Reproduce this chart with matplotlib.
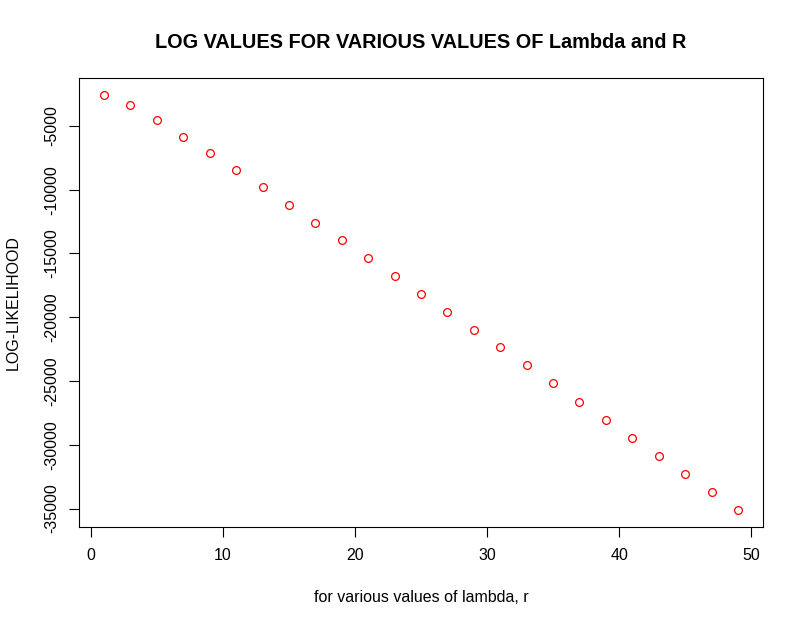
import numpy as np
import matplotlib.pyplot as plt

plt.rcParams['font.family'] = ['Liberation Sans', 'DejaVu Sans']

# lambda / r values and the log-likelihood
r_values = [1, 3, 5, 7, 9, 11, 13, 15, 17, 19, 21, 23, 25,
            27, 29, 31, 33, 35, 37, 39, 41, 43, 45, 47, 49]
log_lik = [-2570, -3380, -4560, -5840, -7150, -8480, -9820, -11230,
           -12590, -13980, -15360, -16770, -18160, -19580, -20990,
           -22370, -23780, -25190, -26620, -28040, -29450, -30860,
           -32280, -33710, -35120]

x_ticks = [0, 10, 20, 30, 40, 50]
y_ticks = [-35000, -30000, -25000, -20000, -15000, -10000, -5000]


def main():
    fig = plt.figure(figsize=(8.04, 6.25), dpi=100)
    ax = fig.add_axes([0.0979, 0.1573, 0.8515, 0.7174])

    ax.plot(r_values, log_lik, linestyle='none', marker='o',
            markersize=5.6, markerfacecolor='none',
            markeredgecolor='red', markeredgewidth=0.9)

    # R style 4% padding on both axes
    x = np.array(r_values)
    y = np.array(log_lik)
    xpad = 0.04 * (x.max() - x.min())
    ypad = 0.04 * (y.max() - y.min())
    ax.set_xlim(x.min() - xpad, x.max() + xpad)
    ax.set_ylim(y.min() - ypad, y.max() + ypad)

    ax.set_xticks(x_ticks)
    ax.set_yticks(y_ticks)
    ax.set_yticklabels([str(v) for v in y_ticks], rotation=90, va='center')
    ax.tick_params(direction='out', length=7, width=0.8, labelsize=11.5,
                   colors='black')
    ax.tick_params(axis='x', pad=8)
    ax.tick_params(axis='y', pad=7)
    for s in ax.spines.values():
        s.set_linewidth(0.8)

    ax.set_title('LOG VALUES FOR VARIOUS VALUES OF Lambda and R',
                 fontsize=14.3, fontweight='bold', pad=21.5)
    ax.set_xlabel('for various values of lambda, r', fontsize=11.5, labelpad=20)
    ax.set_ylabel('LOG-LIKELIHOOD', fontsize=11.5, labelpad=17)

    fig.savefig('out.png', dpi=100)


if __name__ == "__main__":
    main()
